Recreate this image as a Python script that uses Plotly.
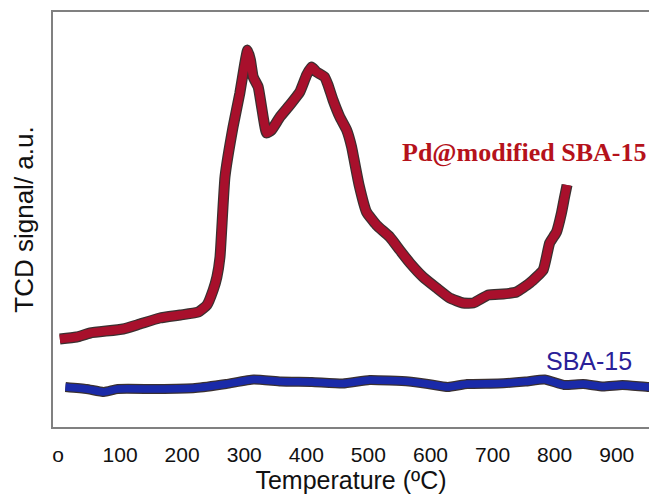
import plotly.graph_objects as go

# TPR profiles (temperature in °C, TCD signal in arbitrary units)
pd_temp = [3, 30, 52, 105, 132, 164, 197, 226, 240, 250, 256, 261, 269, 282, 293,
           301, 305.5, 310, 314.5, 322.5, 328, 336, 344, 357.5, 373.5, 389.5, 400.5,
           408.5, 416.5, 429.5, 435, 443, 454, 465, 473, 478, 485, 497, 513, 534.5,
           550.5, 567, 588, 610, 631, 652.5, 669, 693, 717, 738.5, 760, 781.5, 792,
           803, 811, 816, 820]
pd_signal = [88, 90, 94, 98, 103, 109, 112, 115, 122, 137, 150, 170, 250, 300, 334,
             364, 377, 367, 350, 340, 320, 294, 297, 310, 322, 335, 352,
             360, 355, 350, 342, 327, 310, 297, 280, 264, 242, 215, 202, 190,
             177, 164, 150, 139, 129, 124, 124, 132, 133, 135, 144, 157, 184,
             195, 214, 230, 242]

sba_temp = [12, 46, 74, 96, 159, 221, 271, 315, 359, 409, 459, 502, 565, 596, 628,
            659, 709, 753, 784, 815, 846, 878, 909, 952, 970]
sba_signal = [40, 38, 35, 38, 38, 39, 43, 47.5, 45.5, 45, 43.5, 47, 45.5, 43, 40,
              43, 43.5, 45.5, 47.5, 42, 43, 40.5, 42, 40, 40]

tick_vals = [0, 100, 200, 300, 400, 500, 600, 700, 800, 900]
tick_text = ["o", "100", "200", "300", "400", "500", "600", "700", "800", "900"]

RED = "#a8102c"
BLUE = "#1a2aa8"
OUTLINE = "#3a3030"

fig = go.Figure()

# each curve: dark outline underneath, coloured stroke on top
for xs, ys, col, w in [(pd_temp, pd_signal, RED, 8.5), (sba_temp, sba_signal, BLUE, 7.5)]:
    fig.add_trace(go.Scatter(x=xs, y=ys, mode="lines", showlegend=False, hoverinfo="skip",
                             line=dict(color=OUTLINE, width=w + 2.5, shape="spline",
                                       smoothing=0.4)))
    fig.add_trace(go.Scatter(x=xs, y=ys, mode="lines", showlegend=False,
                             line=dict(color=col, width=w, shape="spline", smoothing=0.4)))

fig.add_annotation(x=752, y=275, text="<b>Pd@modified SBA-15</b>", showarrow=False,
                   font=dict(family="Liberation Serif, Times New Roman, serif", size=26,
                             color="#b5121b"), xanchor="center", yanchor="middle")
fig.add_annotation(x=855, y=66, text="SBA-15", showarrow=False,
                   font=dict(family="Liberation Sans, Arial", size=25,
                             color="#2a2198"), xanchor="center", yanchor="middle")

fig.update_layout(
    width=649, height=500,
    margin=dict(l=53, r=0, t=12, b=73, autoexpand=False),
    paper_bgcolor="white", plot_bgcolor="white",
    font=dict(family="Liberation Sans, Arial, sans-serif", color="#111111"),
    xaxis=dict(range=[-8, 952], tickvals=tick_vals, ticktext=tick_text,
               showgrid=False, zeroline=False, ticks="", ticklabelstandoff=8,
               tickfont=dict(family="Liberation Sans, Arial", size=21),
               showline=True, mirror=True, linecolor="#808080", linewidth=1.5,
               title=dict(text="Temperature (ºC)", standoff=0,
                          font=dict(family="Liberation Sans, Arial", size=25))),
    yaxis=dict(range=[0, 415], showticklabels=False, showgrid=False, zeroline=False,
               ticks="", showline=True, linecolor="#808080", linewidth=1.5,
               title=dict(text="TCD signal/ a.u.", standoff=10,
                          font=dict(family="Liberation Sans, Arial", size=26))),
)

fig.write_html("out.html")
